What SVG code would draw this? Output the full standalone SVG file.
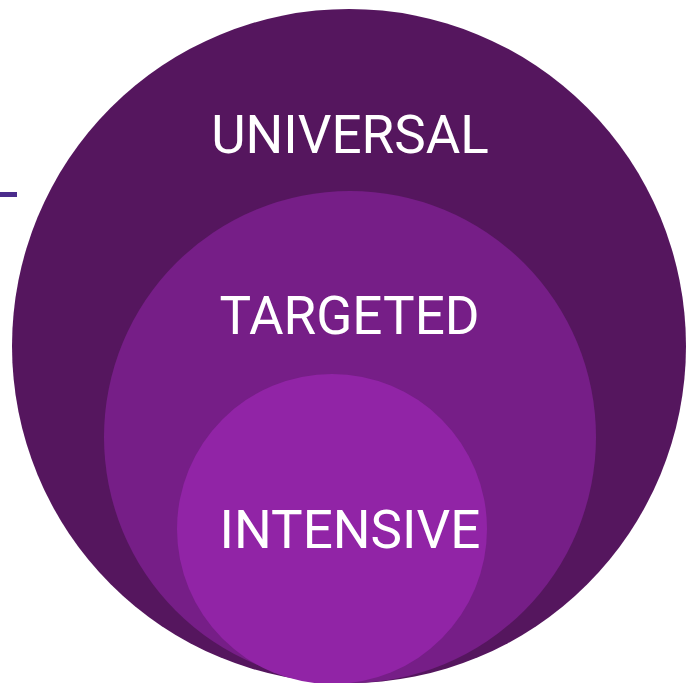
<svg xmlns="http://www.w3.org/2000/svg" width="686" height="683" viewBox="0 0 686 683">
<style>
.lbl{font-family:Roboto,"Liberation Sans",sans-serif;font-size:53px;fill:#ffffff;text-anchor:middle}
</style>
<rect width="686" height="683" fill="#ffffff"/>
<rect x="0" y="192" width="17" height="5" fill="#4b2c8c"/>
<g id="universal">
<circle cx="349" cy="346" r="337" fill="#55165e"/>
<text class="lbl" x="350" y="153">UNIVERSAL</text>
</g>
<g id="targeted">
<circle cx="350" cy="437" r="246" fill="#761e87"/>
<text class="lbl" x="349.5" y="334">TARGETED</text>
</g>
<g id="intensive">
<circle cx="332" cy="529" r="155" fill="#9124a6"/>
<text class="lbl" x="350" y="548">INTENSIVE</text>
</g>
<g id="connectors"/>
</svg>
